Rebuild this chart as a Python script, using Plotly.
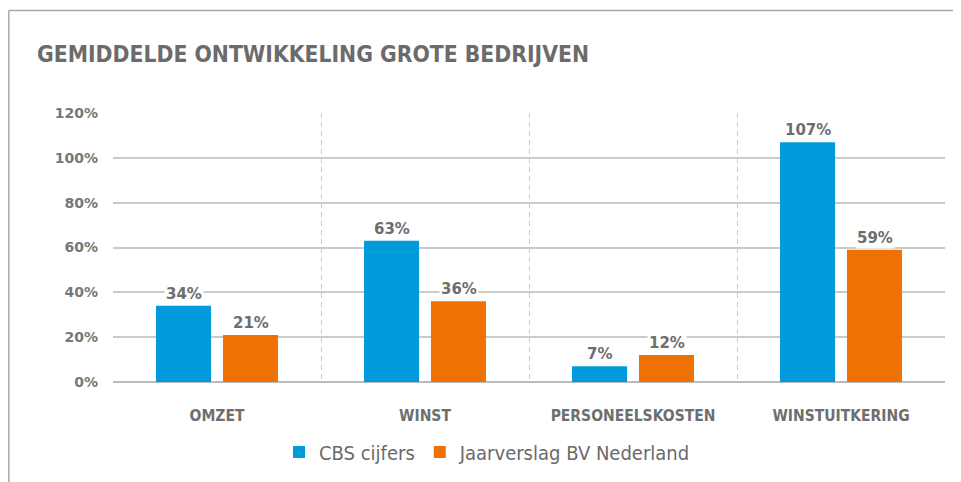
import plotly.graph_objects as go

categories = ["OMZET", "WINST", "PERSONEELSKOSTEN", "WINSTUITKERING"]
cbs_values = [34, 63, 7, 107]
jaarverslag_values = [21, 36, 12, 59]
series_names = ["CBS cijfers", "Jaarverslag BV Nederland"]
y_tick_values = [0, 20, 40, 60, 80, 100, 120]
y_tick_labels = ["0%", "20%", "40%", "60%", "80%", "100%", "120%"]
title_text = "GEMIDDELDE ONTWIKKELING GROTE BEDRIJVEN"

BLUE = "#009BDB"
ORANGE = "#EE7203"
GRAY_TEXT = "#6E6E6E"
GRID = "#CBCBCB"

# page body has an 8px margin; figure sized to fit the window
OFF = 8
W, H = 961 - OFF, 482 - OFF
L = 113 - OFF
R = 961 - 945
T = 113 - OFF
B = 482 - 383
plot_w = W - L - R
plot_h = H - T - B

fig = go.Figure()
fig.add_trace(go.Bar(x=categories, y=cbs_values, name=series_names[0],
                     marker=dict(color=BLUE, line=dict(width=0))))
fig.add_trace(go.Bar(x=categories, y=jaarverslag_values, name=series_names[1],
                     marker=dict(color=ORANGE, line=dict(width=0))))

label_font = dict(family="DejaVu Sans", size=15, color=GRAY_TEXT, weight="bold")
for vals, shift in ((cbs_values, -33.5), (jaarverslag_values, 33.5)):
    for c, v in zip(categories, vals):
        fig.add_annotation(x=c, y=v, xref="x", yref="y", text=f"{v}%",
                           showarrow=False, yanchor="bottom", xanchor="center",
                           xshift=shift, yshift=1, bgcolor="white", borderpad=1,
                           font=label_font)

# frame lines (top and left)
fx = (0.8 - L) / plot_w
fy = (H - B - (10 - OFF)) / plot_h
fig.add_shape(type="line", xref="paper", yref="paper", x0=fx, x1=(W - L) / plot_w + 0.01,
              y0=fy, y1=fy, line=dict(color="#A8A8A8", width=1.5))
fig.add_shape(type="line", xref="paper", yref="paper", x0=fx, x1=fx,
              y0=fy, y1=-(B + 5) / plot_h, line=dict(color="#A8A8A8", width=1.5))

fig.update_layout(
    width=W, height=H,
    margin=dict(l=L, r=R, t=T, b=B),
    paper_bgcolor="white", plot_bgcolor="white",
    barmode="group", bargap=0.356, bargroupgap=0.179,
    title=dict(text=title_text, xref="container", yref="container",
               x=(37 - OFF) / W, xanchor="left", y=1 - (54 - OFF) / H, yanchor="middle",
               font=dict(family="DejaVu Sans Condensed", size=22.7, color="#6B6B6B", weight="bold")),
    showlegend=True,
    legend=dict(orientation="h", xref="paper", yref="paper",
                x=(487.5 - OFF - L) / plot_w, xanchor="center",
                y=-(452 - 383) / plot_h, yanchor="middle",
                font=dict(family="DejaVu Sans Condensed", size=20, color="#6A6A6A"),
                bgcolor="rgba(0,0,0,0)"),
    xaxis=dict(tickson="boundaries", showgrid=True, griddash="5px,4px", gridcolor=GRID,
               gridwidth=1, ticks="", showline=False, zeroline=False,
               ticklabelstandoff=22,
               tickfont=dict(family="DejaVu Sans Condensed", size=15.5, color=GRAY_TEXT, weight="bold")),
    yaxis=dict(range=[0, 120], tickvals=y_tick_values, ticktext=y_tick_labels,
               showgrid=True, gridcolor=GRID, gridwidth=1.5,
               zeroline=True, zerolinecolor="#BBBBBB", zerolinewidth=2,
               ticks="", showline=False, ticklabelstandoff=14,
               tickfont=dict(family="DejaVu Sans", size=14, color="#777777", weight="bold")),
)

fig.write_html("out.html")
